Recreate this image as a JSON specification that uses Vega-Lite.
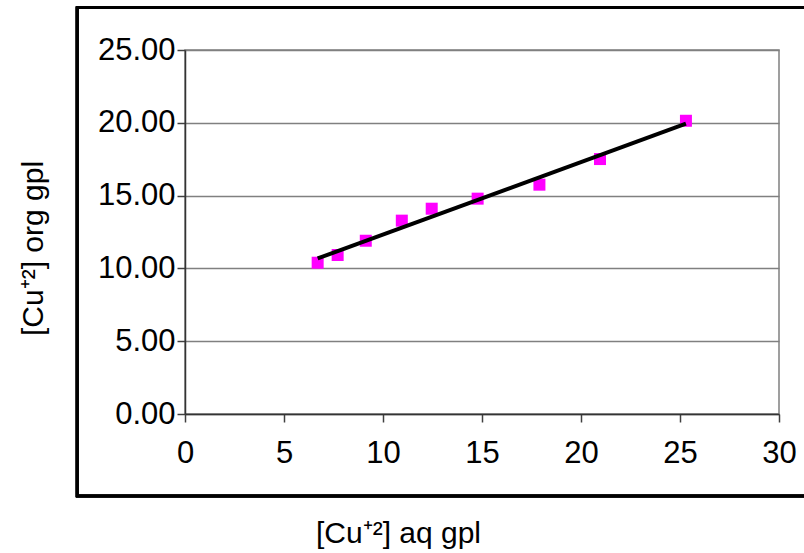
{
  "$schema": "https://vega.github.io/schema/vega-lite/v6.json",
  "width": 594,
  "height": 364,
  "autosize": {"type": "none"},
  "padding": {"left": 185, "top": 50, "right": 25, "bottom": 139},
  "background": "white",
  "config": {
    "font": "Liberation Sans",
    "view": {"stroke": "#808080", "strokeWidth": 1.5},
    "axis": {
      "labelFont": "Liberation Sans",
      "titleFont": "Liberation Sans",
      "labelFontSize": 31,
      "titleFontSize": 30,
      "labelColor": "black",
      "titleColor": "black",
      "titleFontWeight": "normal",
      "labelFlush": false,
      "labelOverlap": false,
      "domainColor": "#333333",
      "domainWidth": 1.5,
      "tickColor": "#404040",
      "tickWidth": 1.5,
      "tickSize": 8,
      "gridColor": "#808080",
      "gridWidth": 1.5,
      "gridOpacity": 1
    }
  },
  "data": {
    "values": [
      {"aq": 6.70, "org": 10.39},
      {"aq": 7.71, "org": 10.92},
      {"aq": 9.13, "org": 11.90},
      {"aq": 10.95, "org": 13.28},
      {"aq": 12.46, "org": 14.10},
      {"aq": 14.78, "org": 14.79},
      {"aq": 17.90, "org": 15.75},
      {"aq": 20.96, "org": 17.51},
      {"aq": 25.30, "org": 20.14}
    ]
  },
  "layer": [
    {
      "mark": {"type": "rect", "filled": false, "stroke": "black", "strokeWidth": 2.5, "clip": false},
      "encoding": {
        "x": {"datum": -5.45, "type": "quantitative", "scale": {"domain": [0, 30], "nice": false, "zero": false}},
        "x2": {"datum": 32},
        "y": {"datum": 27.9, "type": "quantitative", "scale": {"domain": [0, 25], "nice": false, "zero": false}},
        "y2": {"datum": -5.63}
      }
    },
    {
      "mark": {"type": "point", "shape": "square", "filled": true, "size": 144, "color": "#FF00FF", "opacity": 1, "strokeWidth": 0},
      "encoding": {
        "x": {
          "field": "aq",
          "type": "quantitative",
          "scale": {"domain": [0, 30], "nice": false, "zero": false},
          "axis": {
            "values": [0, 5, 10, 15, 20, 25, 30],
            "grid": false,
            "labelPadding": 16,
            "title": "[Cu⁺²] aq gpl",
            "titleX": 213,
            "titleY": 128,
            "titleBaseline": "alphabetic",
            "titleAnchor": "middle"
          }
        },
        "y": {
          "field": "org",
          "type": "quantitative",
          "scale": {"domain": [0, 25], "nice": false, "zero": false},
          "axis": {
            "values": [0, 5, 10, 15, 20, 25],
            "format": ".2f",
            "grid": true,
            "labelPadding": 2,
            "title": "[Cu⁺²] org gpl",
            "titleX": -137,
            "titleY": 198,
            "titleBaseline": "bottom",
            "titleAngle": 270
          }
        }
      }
    },
    {
      "mark": {"type": "line", "color": "black", "strokeWidth": 4},
      "transform": [{"regression": "org", "on": "aq"}],
      "encoding": {
        "x": {"field": "aq", "type": "quantitative"},
        "y": {"field": "org", "type": "quantitative"}
      }
    }
  ]
}
